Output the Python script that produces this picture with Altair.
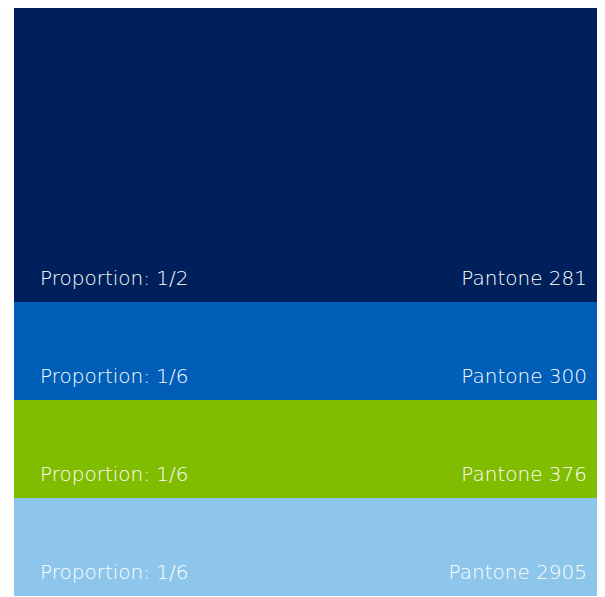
import altair as alt
import pandas as pd

names = ["Pantone 281", "Pantone 300", "Pantone 376", "Pantone 2905"]
proportion_labels = ["Proportion: 1/2", "Proportion: 1/6", "Proportion: 1/6", "Proportion: 1/6"]
shares = [3, 1, 1, 1]
colors = ["#00205B", "#005EB8", "#80BC00", "#8DC6EA"]

starts = []
acc = 0
for s in shares:
    starts.append(acc)
    acc += s
df = pd.DataFrame({
    "name": names,
    "label": proportion_labels,
    "y0": starts,
    "y1": [a + b for a, b in zip(starts, shares)],
})

yscale = alt.Scale(domain=[0, sum(shares)], reverse=True, nice=False, zero=False)
base = alt.Chart(df)

bands = base.mark_rect().encode(
    x=alt.value(0),
    x2=alt.value(583),
    y=alt.Y("y0:Q", scale=yscale, axis=None),
    y2="y1:Q",
    color=alt.Color("name:N", scale=alt.Scale(domain=names, range=colors), legend=None),
)

text_style = dict(font="DejaVu Sans", fontWeight=200, fontSize=20, color="white",
                  baseline="alphabetic", dy=-17)

left = base.mark_text(align="left", **text_style).encode(
    x=alt.value(26), y=alt.Y("y1:Q", scale=yscale, axis=None), text="label:N")

right = base.mark_text(align="right", **text_style).encode(
    x=alt.value(573), y=alt.Y("y1:Q", scale=yscale, axis=None), text="name:N")

chart = alt.layer(bands, left, right).properties(
    width=583, height=588,
    padding={"left": 6, "top": 0, "right": 0, "bottom": 0},
    background="white",
).configure_view(stroke=None)

chart.save("out.html", embed_options={"renderer": "svg", "actions": False})
